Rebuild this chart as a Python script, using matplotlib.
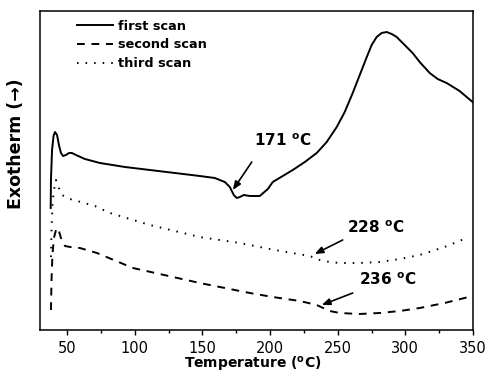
import matplotlib
matplotlib.use("Agg")
import matplotlib.pyplot as plt

plt.rcParams['font.family'] = ['DejaVu Sans']
plt.rcParams['mathtext.fontset'] = 'dejavusans'

# ---- data (temperature in degC, heat flow in arbitrary units) ----
first_T = [37.9, 38.1, 38.9, 40.0, 41.1, 42.6, 44.0, 45.5, 47.0, 49.2, 51.4, 53.6, 56.6,
           63.2, 74.3, 92.8, 111.2, 129.7, 148.1, 159.2, 166.6, 170.3, 173.2, 175.4,
           177.7, 180.6, 185.1, 192.4, 198.4, 202.0, 209.4, 216.8, 225.7, 234.5, 241.9,
           249.3, 255.2, 261.1, 266.3, 271.5, 275.1, 278.8, 282.5, 286.2, 289.9, 293.6,
           299.5, 305.4, 310.6, 318.0, 323.9, 330.5, 340.1, 349.7]
first_y = [122, 150, 180, 194, 198, 195, 185, 177, 174, 175, 177, 177, 175,
           171, 167, 163, 160, 157, 154, 152, 148, 143, 135, 132,
           133, 135, 134, 134, 141, 148, 154, 160, 168, 177, 188,
           203, 218, 237, 255, 273, 285, 293, 297, 298, 296, 293,
           285, 277, 268, 257, 251, 247, 239, 228]

second_T = [38.1, 38.5, 39.2, 40.3, 41.8, 43.3, 45.5, 48.5, 52.2, 59.5, 72.1, 98.7,
            148.1, 185.1, 202.0, 222.0, 234.5, 244.1, 251.5, 266.0, 281.0, 296.0,
            310.6, 329.0, 349.7]
second_y = [20, 50, 75, 92, 100, 102, 92, 84, 83, 82, 77, 62,
            47, 37, 33, 29, 25, 19, 17, 16, 17, 19,
            22, 27, 34]

third_T = [38.1, 38.5, 39.2, 40.3, 41.8, 43.3, 46.2, 52.2, 70.6, 81.7, 111.2, 148.1,
           177.7, 203.5, 229.4, 236.7, 244.1, 251.5, 266.0, 281.0, 296.0, 310.6, 329.0, 345.3]
third_y = [73, 100, 125, 140, 150, 144, 135, 131, 124, 117, 105, 93,
           87, 80, 74, 70, 68, 67, 67, 68, 71, 75, 83, 92]

labels = ['first scan', 'second scan', 'third scan']
x_ticks = [50, 100, 150, 200, 250, 300, 350]

# annotations: (text, text position, arrow tail, arrow tip)
ann_text = ['171 $^{\\mathbf{o}}$C', '228 $^{\\mathbf{o}}$C', '236 $^{\\mathbf{o}}$C']
ann_text_xy = [(188.5, 189), (257.0, 102), (266.0, 50)]
ann_tail = [(186.5, 168), (253.7, 90), (261.1, 37)]
ann_tip = [(172.5, 140), (233.0, 76), (238.2, 25)]

fig = plt.figure(figsize=(4.9, 3.77), dpi=100)
ax = fig.add_axes([40/490, 47/377, 433/490, 319/377])

lw = 1.4
ax.plot(first_T, first_y, color='black', lw=lw, ls='-', label=labels[0])
ax.plot(second_T, second_y, color='black', lw=lw, ls=(0, (4.0, 3.45)), label=labels[1])
ax.plot(third_T, third_y, color='black', lw=lw, ls=(0, (0.8, 3.6)), label=labels[2])

ax.set_xlim(30, 350)
ax.set_ylim(0, 319)
ax.set_xticks(x_ticks)
ax.set_xticks([75, 125, 175, 225, 275, 325], minor=True)
ax.set_yticks([])
ax.tick_params(axis='x', which='major', direction='out', length=3.6, width=1.0,
               labelsize=10.5, pad=4)
ax.tick_params(axis='x', which='minor', direction='out', length=2.0, width=1.0)
for s in ax.spines.values():
    s.set_linewidth(1.1)

ax.set_xlabel('Temperature ($^{\\mathbf{o}}$C)', fontsize=10, fontweight='bold')
ax.xaxis.set_label_coords(0.491, -0.077)
ax.set_ylabel('Exotherm (\u2192)', fontsize=12.5, fontweight='bold')
ax.yaxis.set_label_coords(-0.035, 0.583)

for t, txy, tail, tip in zip(ann_text, ann_text_xy, ann_tail, ann_tip):
    ax.text(txy[0], txy[1], t, fontsize=11, fontweight='bold', ha='left', va='center')
    ax.annotate('', xy=tip, xytext=tail,
                arrowprops=dict(arrowstyle='-|>,head_length=0.5,head_width=0.2',
                                color='black', lw=1.2, shrinkA=0, shrinkB=0))

leg = ax.legend(loc='upper left', bbox_to_anchor=(0.0855, 0.973), frameon=False,
                borderaxespad=0, borderpad=0, handlelength=2.8, handletextpad=0.4,
                labelspacing=0.45, prop={'weight': 'bold', 'size': 9.3})

fig.savefig('out.png', dpi=100)
